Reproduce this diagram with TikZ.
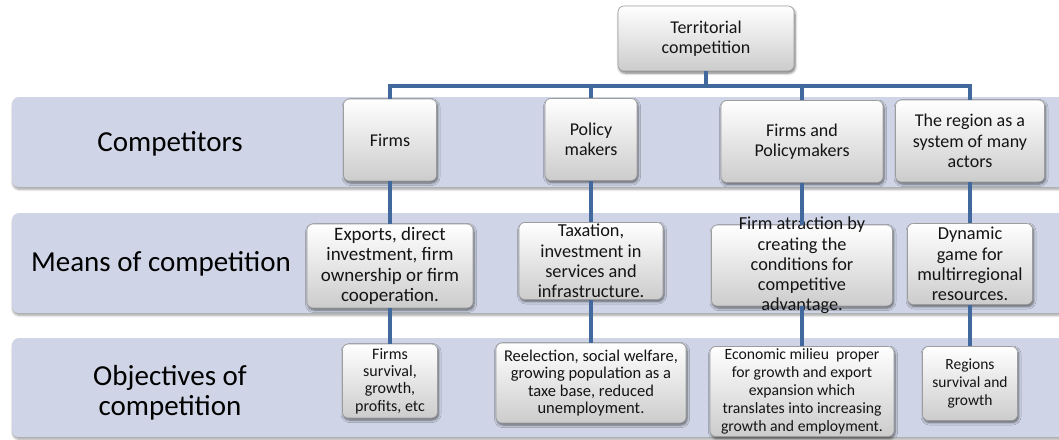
\documentclass[tikz,border=0pt]{standalone}
\usepackage{fontspec}
\setmainfont{Carlito}
\usetikzlibrary{shadows,shadows.blur}

\definecolor{bandfill}{HTML}{CFD5E6}
\definecolor{linkblue}{HTML}{41699E}
\definecolor{boxedge}{HTML}{9C9C9C}

\newcommand\setfs[2]{\fontsize{#1pt}{#2pt}\selectfont}

% name, x, y, width, height, font size, line skip, text
\newcommand\tbox[8]{%
  \node[box, minimum width=#4pt, minimum height=#5pt] (#1) at (#2,#3) {};
  \node[txt, font=\setfs{#6}{#7}] (#1-t) at (#1.center) {#8};}

\tikzset{
  band/.style={fill=bandfill, draw=none, rounded corners=7pt,
    blur shadow={shadow xshift=0.5pt, shadow yshift=-2.5pt, shadow blur radius=2pt,
      shadow blur steps=6, shadow opacity=35}},
  box/.style={draw=boxedge, line width=0.6pt, rounded corners=6pt, inner sep=0pt,
    top color=white, bottom color=black!20,
    blur shadow={shadow xshift=1pt, shadow yshift=-2pt, shadow blur radius=2.5pt,
      shadow blur steps=6, shadow opacity=55}},
  txt/.style={align=center, inner sep=0pt, text=black!92},
  rowlabel/.style={align=center, inner sep=0pt, font=\setfs{29}{30}},
  link/.style={draw=linkblue, line width=4pt},
}

\begin{document}
\begin{tikzpicture}[x=1pt, y=-1pt]
\useasboundingbox (0,0) rectangle (1059,439);

% horizontal bands
\path[band] (12,97) rectangle (1075,187);
\path[band] (12,213) rectangle (1075,313);
\path[band] (12,338) rectangle (1075,437);

% row titles
\node[rowlabel] (lab1) at (170,144) {Competitors};
\node[rowlabel] (lab2) at (161,264) {Means of competition};
\node[rowlabel] (lab3) at (170,392.5) {Objectives of\\competition};

% root
\tbox{T}{706}{38.5}{176}{65}{18}{20.2}{Territorial\\competition}

% competitors
\tbox{c1}{390}{140}{93}{82}{18}{20.2}{Firms}
\tbox{c2}{591}{139.5}{92}{82}{18}{20.2}{Policy\\makers}
\tbox{c3}{802}{141.5}{162}{82}{18}{20.2}{Firms and\\Policymakers}
\tbox{c4}{970}{141}{149}{82}{18}{20.2}{The region as a\\system of many\\actors}

% means of competition
\tbox{m1}{390}{266}{166}{84}{19}{20.6}{Exports, direct\\investment, firm\\ownership or firm\\cooperation.}
\tbox{m2}{591}{261}{144}{77}{18.3}{20.2}{Taxation,\\investment in\\services and\\infrastructure.}
\tbox{m3}{802}{265.5}{181}{81}{18.3}{20.2}{Firm atraction by\\creating the\\conditions for\\competitive\\advantage.}
\tbox{m4}{970}{264}{125}{81}{18.3}{20.2}{Dynamic\\game for\\multirregional\\resources.}

% objectives of competition
\tbox{o1}{390}{381}{95}{74}{16}{17.4}{Firms\\survival,\\growth,\\profits, etc}
\tbox{o2}{591}{383}{190}{80}{16.5}{17.4}{Reelection, social welfare,\\growing population as a\\taxe base, reduced\\unemployment.}
\tbox{o3}{802}{391.5}{184}{90}{15.7}{18}{Economic milieu\ \ proper\\for growth and export\\expansion which\\translates into increasing\\growth and employment.}
\tbox{o4}{970}{383.5}{95}{74}{15.5}{17.7}{Regions\\survival and\\growth}

% tree connectors
\coordinate (hub) at (706,86);
\draw[link] (T.south) -- (hub);
\draw[link] (c1.north) |- (hub);
\draw[link] (c2.north) |- (hub);
\draw[link] (c3.north) |- (hub);
\draw[link] (c4.north) |- (hub);

\draw[link] (c1.south) -- (m1.north);
\draw[link] (c2.south) -- (m2.north);
\draw[link] (c3.south) -- (m3.north);
\draw[link] (c4.south) -- (m4.north);

\draw[link] (m1.south) -- (o1.north);
\draw[link] (m2.south) -- (o2.north);
\draw[link] (m3.south) -- (o3.north);
\draw[link] (m4.south) -- (o4.north);
\end{tikzpicture}
\end{document}
